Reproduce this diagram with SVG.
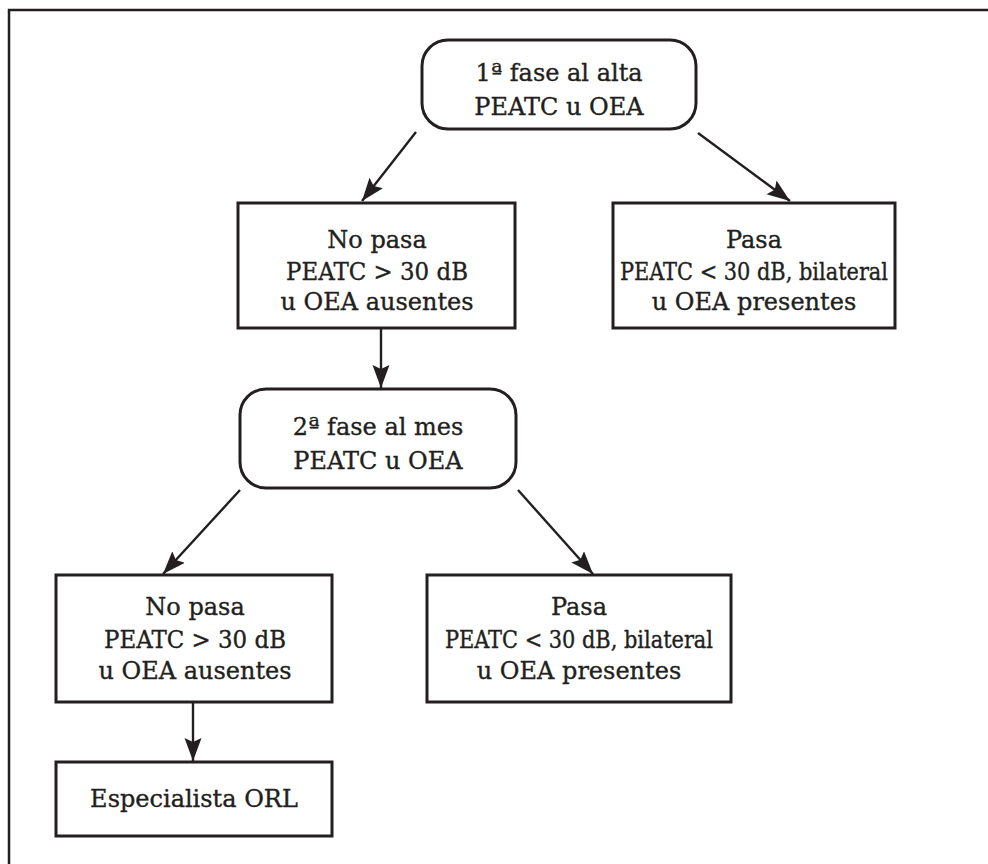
<svg xmlns="http://www.w3.org/2000/svg" width="988" height="864" viewBox="0 0 988 864">
<defs>
<style>
.box{fill:#fff;stroke:#231f20;stroke-width:3}
.t{font-family:"DejaVu Serif","Liberation Serif",serif;font-size:24px;fill:#231f20;stroke:#231f20;stroke-width:0.35;text-anchor:middle}
.cn{font-family:"DejaVu Serif Condensed","DejaVu Serif","Liberation Serif",serif}
.c{stroke:#231f20;stroke-width:2.4;fill:none}
</style>
<marker id="ah" markerUnits="userSpaceOnUse" markerWidth="24" markerHeight="18" refX="23" refY="8.5" orient="auto">
<path d="M0,0 L23,8.5 L0,17 L4,8.5 Z" fill="#231f20"/>
</marker>
</defs>
<rect x="0" y="0" width="988" height="864" fill="#fff"/>
<path d="M9,864 V10 H988" fill="none" stroke="#231f20" stroke-width="2.5"/>

<g id="connectors">
<line class="c" x1="416" y1="132" x2="362" y2="201" marker-end="url(#ah)"/>
<line class="c" x1="698" y1="133" x2="790" y2="201" marker-end="url(#ah)"/>
<line class="c" x1="381" y1="329" x2="381" y2="388" marker-end="url(#ah)"/>
<line class="c" x1="240" y1="490" x2="163" y2="574" marker-end="url(#ah)"/>
<line class="c" x1="518" y1="490" x2="593" y2="574" marker-end="url(#ah)"/>
<line class="c" x1="193" y1="703" x2="193" y2="761" marker-end="url(#ah)"/>
</g>

<g id="n1">
<rect class="box" x="422" y="40" width="274" height="89" rx="26"/>
<text class="t" x="559" y="81">1ª fase al alta</text>
<text class="t" x="559" y="115">PEATC u OEA</text>
</g>

<g id="n2">
<rect class="box" x="238" y="203" width="277" height="125"/>
<text class="t" x="377" y="248">No pasa</text>
<text class="t" x="377" y="280" textLength="182" lengthAdjust="spacingAndGlyphs">PEATC &gt; 30 dB</text>
<text class="t" x="377" y="310">u OEA ausentes</text>
</g>

<g id="n3">
<rect class="box" x="613" y="203" width="282" height="125"/>
<text class="t" x="754" y="248">Pasa</text>
<text class="t cn" x="754" y="280" textLength="268" lengthAdjust="spacingAndGlyphs">PEATC &lt; 30 dB, bilateral</text>
<text class="t" x="754" y="310">u OEA presentes</text>
</g>

<g id="n4">
<rect class="box" x="240" y="389" width="276" height="99" rx="26"/>
<text class="t" x="378" y="435">2ª fase al mes</text>
<text class="t" x="378" y="469">PEATC  u  OEA</text>
</g>

<g id="n5">
<rect class="box" x="56" y="575" width="276" height="127"/>
<text class="t" x="195" y="615">No pasa</text>
<text class="t" x="195" y="648" textLength="182" lengthAdjust="spacingAndGlyphs">PEATC &gt; 30 dB</text>
<text class="t" x="195" y="679">u OEA ausentes</text>
</g>

<g id="n6">
<rect class="box" x="427" y="575" width="304" height="127"/>
<text class="t" x="579" y="615">Pasa</text>
<text class="t cn" x="579" y="648" textLength="268" lengthAdjust="spacingAndGlyphs">PEATC &lt; 30 dB, bilateral</text>
<text class="t" x="579" y="679">u OEA presentes</text>
</g>

<g id="n7">
<rect class="box" x="56" y="762" width="276" height="74"/>
<text class="t" x="194" y="807">Especialista ORL</text>
</g>
</svg>
